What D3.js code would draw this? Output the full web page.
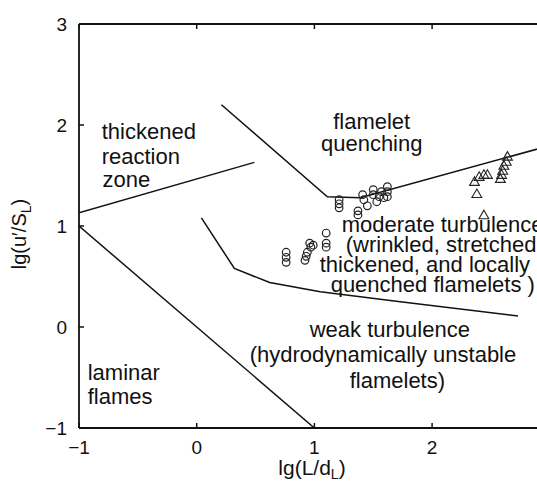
<!DOCTYPE html>
<html>
<head>
<meta charset="utf-8">
<script src="https://cdn.jsdelivr.net/npm/d3@7"></script>
<style>
  html, body { margin: 0; padding: 0; background: #fff; }
  svg { display: block; }
  text { font-family: "Liberation Sans", Arial, Helvetica, sans-serif; fill: #111; }
</style>
</head>
<body>
<svg id="chart" width="537" height="484"></svg>
<script>
// ---- data ----
const xTicks = [-1, 0, 1, 2];
const yTicks = [-1, 0, 1, 2, 3];

// boundary lines (lg(L/dL), lg(u'/SL))
const reactionZoneLine = [[-1, 1.13], [0.49, 1.63]];
const laminarLine = [[-1, 1.0], [1.0, -1.0]];
const quenchLine = [[0.21, 2.20], [1.11, 1.29], [1.39, 1.28], [2.95, 1.78]];
const weakLine = [[0.04, 1.08], [0.32, 0.58], [0.62, 0.44], [1.05, 0.35], [1.73, 0.25], [2.73, 0.11]];

// experimental points
const circleX = [0.76, 0.76, 0.76, 0.92, 0.93, 0.94, 0.96, 0.97, 0.99, 1.10, 1.10, 1.10,
                 1.21, 1.21, 1.21, 1.37, 1.37, 1.41, 1.42, 1.45, 1.50, 1.50, 1.53, 1.55, 1.57, 1.59, 1.62, 1.62, 1.62];
const circleY = [0.74, 0.69, 0.64, 0.66, 0.70, 0.74, 0.83, 0.79, 0.81, 0.93, 0.83, 0.79,
                 1.26, 1.22, 1.18, 1.15, 1.11, 1.31, 1.26, 1.20, 1.36, 1.31, 1.24, 1.29, 1.34, 1.28, 1.39, 1.34, 1.29];
const triX = [2.36, 2.40, 2.44, 2.47, 2.38, 2.44, 2.58, 2.59, 2.60, 2.61, 2.63, 2.64];
const triY = [1.43, 1.48, 1.50, 1.50, 1.31, 1.10, 1.46, 1.50, 1.54, 1.59, 1.63, 1.68];

// region labels
const thickenedLabel = ["thickened", "reaction", "zone"];
const quenchLabel = ["flamelet", "quenching"];
const moderateLabel = ["moderate turbulence", "(wrinkled, stretched", "thickened, and locally", "quenched flamelets )"];
const weakLabel = ["weak turbulence", "(hydrodynamically unstable", "flamelets)"];
const laminarLabel = ["laminar", "flames"];

// ---- drawing ----
const svg = d3.select("#chart");
const x = d3.scaleLinear().domain([-1, 3]).range([79, 79 + 4 * 117.7]);
const y = d3.scaleLinear().domain([-1, 3]).range([428, 24]);
const W = 537;

const line = d3.line().x(d => x(d[0])).y(d => y(d[1]));

// frame: left, bottom, top
const axisG = svg.append("g");
axisG.append("line").attr("x1", x(-1)).attr("x2", x(-1)).attr("y1", y(3)).attr("y2", y(-1))
  .attr("stroke", "#111").attr("stroke-width", 1.8);
axisG.append("line").attr("x1", x(-1)).attr("x2", W + 5).attr("y1", y(-1)).attr("y2", y(-1))
  .attr("stroke", "#111").attr("stroke-width", 1.8);
axisG.append("line").attr("x1", x(-1)).attr("x2", W + 5).attr("y1", y(3)).attr("y2", y(3))
  .attr("stroke", "#111").attr("stroke-width", 1.8);

// inward ticks
const tickLen = 5;
xTicks.forEach(t => {
  axisG.append("line").attr("x1", x(t)).attr("x2", x(t)).attr("y1", y(-1)).attr("y2", y(-1) - tickLen)
    .attr("stroke", "#111").attr("stroke-width", 1.5);
  axisG.append("line").attr("x1", x(t)).attr("x2", x(t)).attr("y1", y(3)).attr("y2", y(3) + tickLen)
    .attr("stroke", "#111").attr("stroke-width", 1.5);
});
yTicks.forEach(t => {
  axisG.append("line").attr("x1", x(-1)).attr("x2", x(-1) + tickLen).attr("y1", y(t)).attr("y2", y(t))
    .attr("stroke", "#111").attr("stroke-width", 1.5);
});

// tick labels
const fmt = v => v < 0 ? "\u2212" + Math.abs(v) : String(v);
xTicks.forEach(t => {
  axisG.append("text").attr("x", x(t)).attr("y", y(-1) + 26).attr("text-anchor", "middle")
    .attr("font-size", 19).text(fmt(t));
});
yTicks.forEach(t => {
  axisG.append("text").attr("x", x(-1) - 12).attr("y", y(t) + 7).attr("text-anchor", "end")
    .attr("font-size", 19).text(fmt(t));
});

// axis titles
const xt = svg.append("text").attr("x", 312).attr("y", 475).attr("text-anchor", "middle").attr("font-size", 21);
xt.append("tspan").text("lg(L/d");
xt.append("tspan").attr("font-size", 14).attr("dy", 4).text("L");
xt.append("tspan").attr("dy", -4).text(")");

const yt = svg.append("text").attr("transform", "translate(26,234) rotate(-90)").attr("text-anchor", "middle").attr("font-size", 20);
yt.append("tspan").text("lg(u\u2032/S");
yt.append("tspan").attr("font-size", 14).attr("dy", 5).text("L");
yt.append("tspan").attr("dy", -5).text(")");

// clip for plot content
svg.append("clipPath").attr("id", "plotclip").append("rect")
  .attr("x", x(-1)).attr("y", y(3)).attr("width", W - x(-1) + 10).attr("height", y(-1) - y(3));
const plot = svg.append("g").attr("clip-path", "url(#plotclip)");

[reactionZoneLine, laminarLine, quenchLine, weakLine].forEach(l => {
  plot.append("path").attr("d", line(l)).attr("fill", "none").attr("stroke", "#111").attr("stroke-width", 1.5);
});

// circles
circleX.forEach((cx, i) => {
  plot.append("circle").attr("cx", x(cx)).attr("cy", y(circleY[i])).attr("r", 3.8)
    .attr("fill", "none").attr("stroke", "#222").attr("stroke-width", 1.2);
});
// triangles
const tri = d3.symbol().type(d3.symbolTriangle).size(42);
triX.forEach((tx, i) => {
  plot.append("path").attr("d", tri()).attr("transform", `translate(${x(tx)},${y(triY[i])})`)
    .attr("fill", "none").attr("stroke", "#222").attr("stroke-width", 1.1);
});

// region labels
function block(lines, xs, ys, anchor) {
  lines.forEach((s, i) => {
    svg.append("text").attr("x", x(xs[i])).attr("y", y(ys[i])).attr("text-anchor", anchor)
      .attr("font-size", 22).text(s);
  });
}
block(thickenedLabel, [-0.807, -0.807, -0.80], [1.861, 1.614, 1.386], "start");
block(quenchLabel, [1.487, 1.487], [1.960, 1.743], "middle");
block(moderateLabel, [1.232, 1.266, 1.045, 1.138], [0.941, 0.743, 0.545, 0.347], "start");
block(weakLabel, [0.960, 0.450, 1.300], [-0.099, -0.347, -0.604], "start");
block(laminarLabel, [-0.926, -0.926], [-0.525, -0.762], "start");
</script>
</body>
</html>
